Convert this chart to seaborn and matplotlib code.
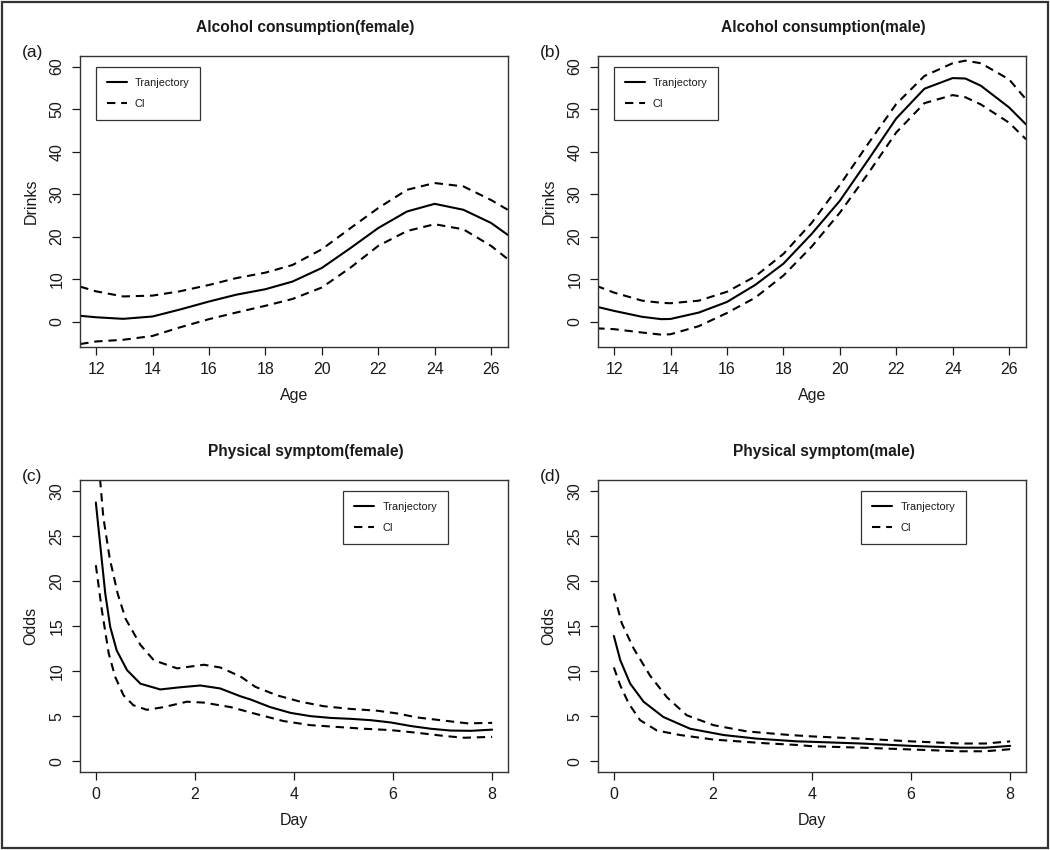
import matplotlib
matplotlib.use("Agg")
import matplotlib.pyplot as plt
from matplotlib.lines import Line2D
from matplotlib.patches import Rectangle
import seaborn as sns

# ---- data ----
# (a) alcohol, female
age_a = [11.44, 12, 12.96, 14, 14.96, 16, 16.96, 18, 18.96, 20, 21.02, 22, 23.02, 24, 25.02, 26, 26.59]
traj_a = [1.34, 1.0, 0.63, 1.18, 2.8, 4.7, 6.3, 7.6, 9.4, 12.6, 17.3, 22.0, 25.9, 27.7, 26.3, 23.2, 20.4]
up_a = [8.2, 7.1, 5.9, 6.1, 7.1, 8.6, 10.2, 11.5, 13.3, 17.0, 22.0, 26.7, 31.0, 32.6, 31.8, 28.6, 26.3]
lo_a = [-5.3, -4.7, -4.3, -3.4, -1.4, 0.55, 2.1, 3.7, 5.3, 8.0, 12.7, 17.8, 21.3, 22.9, 21.7, 17.8, 14.7]

# (b) alcohol, male
age_b = [11.37, 12, 13, 13.68, 14, 15, 16, 17, 18, 19, 20, 21, 22, 23, 24, 24.45, 25, 26, 26.6]
traj_b = [3.5, 2.5, 1.1, 0.55, 0.6, 2.1, 4.6, 8.6, 13.6, 20.6, 28.4, 38.0, 47.8, 54.8, 57.3, 57.2, 55.5, 50.4, 46.4]
up_b = [8.4, 6.8, 4.9, 4.4, 4.3, 4.9, 7.0, 10.6, 15.9, 23.2, 32.1, 41.8, 51.2, 57.8, 60.8, 61.4, 60.8, 57.0, 52.3]
lo_b = [-1.6, -1.8, -2.6, -3.1, -3.0, -1.1, 2.0, 5.6, 10.8, 17.6, 25.6, 34.8, 44.5, 51.4, 53.3, 52.8, 51.1, 46.8, 42.9]

# (c) physical symptom, female
day_c_t = [0, 0.12, 0.19, 0.29, 0.42, 0.63, 0.9, 1.3, 1.7, 2.11, 2.51, 2.92, 3.12, 3.52, 3.93, 4.33,
           4.74, 5.14, 5.55, 5.95, 6.36, 6.76, 7.16, 7.57, 8.0]
traj_c = [28.7, 22.3, 18.6, 14.9, 12.3, 10.1, 8.6, 7.96, 8.2, 8.4, 8.07, 7.2, 6.85, 6.0, 5.36, 5.0,
          4.8, 4.7, 4.55, 4.3, 3.9, 3.6, 3.4, 3.37, 3.5]
day_c_u = [0, 0.087, 0.15, 0.28, 0.44, 0.6, 0.9, 1.17, 1.64, 2.18, 2.51, 2.92, 3.22, 3.66, 4.13, 4.6,
           5.14, 5.68, 6.08, 6.49, 7.03, 7.5, 8.0]
up_c = [36.0, 31.2, 27.1, 22.5, 18.6, 15.8, 12.9, 11.2, 10.3, 10.7, 10.4, 9.4, 8.25, 7.3, 6.6, 6.1,
        5.8, 5.6, 5.3, 4.85, 4.5, 4.2, 4.25]
day_c_l = [0, 0.12, 0.26, 0.39, 0.56, 0.76, 1.03, 1.37, 1.84, 2.18, 2.72, 3.26, 3.79, 4.33, 4.87,
           5.41, 5.95, 6.49, 7.03, 7.43, 8.0]
lo_c = [21.75, 16.8, 11.95, 9.36, 7.3, 6.2, 5.7, 6.0, 6.6, 6.5, 6.0, 5.2, 4.45, 4.0, 3.8,
        3.6, 3.45, 3.15, 2.8, 2.6, 2.7]

# (d) physical symptom, male
day_d_t = [0, 0.13, 0.33, 0.6, 1.0, 1.54, 2.22, 2.89, 3.7, 4.0, 5.0, 6.0, 7.0, 7.5, 8.0]
traj_d = [13.9, 11.2, 8.6, 6.6, 4.9, 3.6, 2.9, 2.5, 2.2, 2.15, 1.96, 1.7, 1.5, 1.5, 1.7]
day_d_u = [0, 0.16, 0.4, 0.73, 1.07, 1.47, 2.01, 2.69, 3.56, 4.0, 5.0, 6.0, 7.0, 7.5, 8.0]
up_d = [18.6, 15.3, 12.5, 9.5, 7.1, 5.1, 4.0, 3.3, 2.9, 2.75, 2.5, 2.2, 1.96, 1.96, 2.2]
day_d_l = [0, 0.13, 0.3, 0.53, 0.87, 1.34, 2.01, 3.02, 3.7, 4.0, 5.0, 6.0, 7.0, 7.5, 8.0]
lo_d = [10.4, 8.4, 6.4, 4.55, 3.4, 2.9, 2.4, 2.0, 1.8, 1.66, 1.5, 1.3, 1.1, 1.1, 1.33]

titles = ["Alcohol consumption(female)", "Alcohol consumption(male)",
          "Physical symptom(female)", "Physical symptom(male)"]
letters = ["(a)", "(b)", "(c)", "(d)"]

sns.set_theme(style="ticks")
plt.rcParams["font.family"] = ["Liberation Sans", "DejaVu Sans"]
plt.rcParams["text.color"] = "#1a1a1a"
plt.rcParams["axes.labelcolor"] = "#1a1a1a"
plt.rcParams["xtick.color"] = "#1a1a1a"
plt.rcParams["ytick.color"] = "#1a1a1a"

fig = plt.figure(figsize=(10.5, 8.5), dpi=100)
W, H = 1050, 850
# axes boxes in pixels: left, top, right, bottom
boxes = [(80, 56, 508, 347), (598, 56, 1026, 347),
         (80, 480, 508, 772), (598, 480, 1026, 772)]
axes = []
for l, t, r, b in boxes:
    axes.append(fig.add_axes([l / W, 1 - b / H, (r - l) / W, (b - t) / H]))

panels = [
    (age_a, traj_a, age_a, up_a, age_a, lo_a),
    (age_b, traj_b, age_b, up_b, age_b, lo_b),
    (day_c_t, traj_c, day_c_u, up_c, day_c_l, lo_c),
    (day_d_t, traj_d, day_d_u, up_d, day_d_l, lo_d),
]
dash = (0, (4.0, 2.8))
LW = 1.5
for i, ax in enumerate(axes):
    xt, yt, xu, yu, xl, yl = panels[i]
    sns.lineplot(x=xt, y=yt, ax=ax, color="black", lw=LW)
    sns.lineplot(x=xu, y=yu, ax=ax, color="black", lw=LW, linestyle=dash)
    sns.lineplot(x=xl, y=yl, ax=ax, color="black", lw=LW, linestyle=dash)

    if i < 2:
        ax.set_xlim(11.43, 26.6)
        ax.set_ylim(-6.0, 62.5)
        ax.set_xticks(range(12, 27, 2))
        ax.set_yticks(range(0, 61, 10))
        ax.set_xlabel("Age", fontsize=11.5, labelpad=8)
        ax.set_ylabel("Drinks", fontsize=11.5, labelpad=8)
        leg_x = 0.037
    else:
        ax.set_xlim(-0.32, 8.32)
        ax.set_ylim(-1.2, 31.2)
        ax.set_xticks(range(0, 9, 2))
        ax.set_yticks(range(0, 31, 5))
        ax.set_xlabel("Day", fontsize=11.5, labelpad=8)
        ax.set_ylabel("Odds", fontsize=11.5, labelpad=8)
        leg_x = 0.615

    ax.set_title(titles[i], fontsize=11.2, fontweight="bold", pad=17, x=0.527)
    for s in ax.spines.values():
        s.set_visible(True)
        s.set_color("#333333")
        s.set_linewidth(1.0)
    ax.tick_params(axis="both", direction="out", length=6, width=0.9,
                   labelsize=11.5, pad=5, top=False, right=False)
    ax.tick_params(axis="y", labelrotation=90)
    for tl in ax.get_yticklabels():
        tl.set_va("center")

    handles = [Line2D([], [], color="black", lw=LW),
               Line2D([], [], color="black", lw=LW, linestyle=dash)]
    leg = ax.legend(handles, ["Tranjectory", "CI"], loc="upper left",
                    bbox_to_anchor=(leg_x, 0.962), fontsize=7.8,
                    frameon=True, fancybox=False, edgecolor="#333333",
                    framealpha=1, borderpad=1.0, handlelength=1.85,
                    handletextpad=0.75, labelspacing=1.0, borderaxespad=0)
    leg.get_frame().set_linewidth(0.9)

    l, t, r, b = boxes[i]
    fig.text((l - 58) / W, 1 - (t - 3) / H, letters[i], fontsize=12.5,
             ha="left", va="center")

fig.add_artist(Rectangle((0.0015, 0.002), 0.997, 0.996, transform=fig.transFigure,
                         fill=False, lw=1.6, ec="#333333"))

fig.savefig("out.png", dpi=100)
